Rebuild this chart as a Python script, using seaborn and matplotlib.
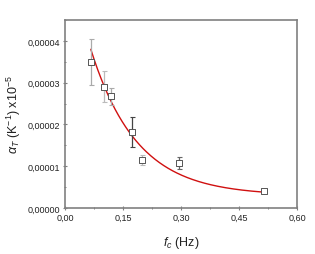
import numpy as np
import pandas as pd
import matplotlib
matplotlib.use("Agg")
import matplotlib.pyplot as plt
import seaborn as sns
from matplotlib.ticker import MultipleLocator, FuncFormatter

# Data
freq_hz = [0.067, 0.102, 0.118, 0.174, 0.199, 0.296, 0.514]
alpha_T = [3.50e-5, 2.90e-5, 2.67e-5, 1.82e-5, 1.16e-5, 1.08e-5, 0.41e-5]
alpha_err = [0.55e-5, 0.37e-5, 0.20e-5, 0.37e-5, 0.12e-5, 0.15e-5, 0.03e-5]
err_colors = ["#aaaaaa", "#bbbbbb", "#aaaaaa", "#444444", "#bbbbbb", "#666666", "#aaaaaa"]

# Exponential decay fit parameters (y = y0 + A*exp(-x/t))
fit_y0 = 0.30e-5
fit_A = 6.14e-5
fit_t = 0.119
fit_xmin, fit_xmax = 0.067, 0.514

x_ticks = [0.0, 0.15, 0.30, 0.45, 0.60]
y_ticks = [0.0, 1e-5, 2e-5, 3e-5, 4e-5]

sns.set_theme(style="white")
plt.rcParams['font.family'] = ['Liberation Sans', 'DejaVu Sans']
plt.rcParams['mathtext.fontset'] = 'custom'
plt.rcParams['mathtext.rm'] = 'Liberation Sans'
plt.rcParams['mathtext.it'] = 'Liberation Sans:italic'
plt.rcParams['mathtext.bf'] = 'Liberation Sans:bold'

fig = plt.figure(figsize=(3.15, 2.55), dpi=100)
ax = fig.add_axes([0.206, 0.180, 0.737, 0.738])

df = pd.DataFrame({"f": freq_hz, "a": alpha_T, "e": alpha_err})

# fit curve
xf = np.linspace(fit_xmin, fit_xmax, 200)
yf = fit_y0 + fit_A * np.exp(-xf / fit_t)
sns.lineplot(x=xf, y=yf, ax=ax, color="#d01010", lw=1.0, zorder=2)

# error bars
for xi, yi, ei, ci in zip(df["f"], df["a"], df["e"], err_colors):
    ax.errorbar(xi, yi, yerr=ei, fmt="none", ecolor=ci, elinewidth=0.9,
                capsize=1.8, capthick=0.8, zorder=3)

sns.scatterplot(data=df, x="f", y="a", ax=ax, marker="s", s=15,
                facecolor="white", edgecolor="#555555", linewidth=0.7, zorder=4)

ax.set_xlim(0, 0.6)
ax.set_ylim(0, 4.5e-5)
ax.set_xticks(x_ticks)
ax.set_yticks(y_ticks)
ax.xaxis.set_minor_locator(MultipleLocator(0.075))
ax.yaxis.set_minor_locator(MultipleLocator(0.5e-5))
ax.xaxis.set_major_formatter(FuncFormatter(lambda v, p: f"{v:.2f}".replace(".", ",")))
ax.yaxis.set_major_formatter(FuncFormatter(lambda v, p: f"{v:.5f}".replace(".", ",")))

for sp in ax.spines.values():
    sp.set_color("#808080")
    sp.set_linewidth(1.2)

ax.tick_params(which="major", direction="inout", length=3.5, width=0.8,
               color="#808080", labelsize=6.5, pad=1.5, labelcolor="#222222",
               bottom=True, left=True)
ax.tick_params(which="minor", direction="inout", length=2, width=0.7,
               color="#808080", bottom=True, left=True)

ax.set_xlabel(r"$f_c$ (Hz)", fontsize=9, color="#222222")
ax.set_ylabel(r"$\alpha_T$ (K$^{-1}$) x10$^{-5}$", fontsize=9, color="#222222")
ax.xaxis.set_label_coords(0.5, -0.135)
ax.yaxis.set_label_coords(-0.18, 0.5)

fig.savefig("out.png", dpi=100)
